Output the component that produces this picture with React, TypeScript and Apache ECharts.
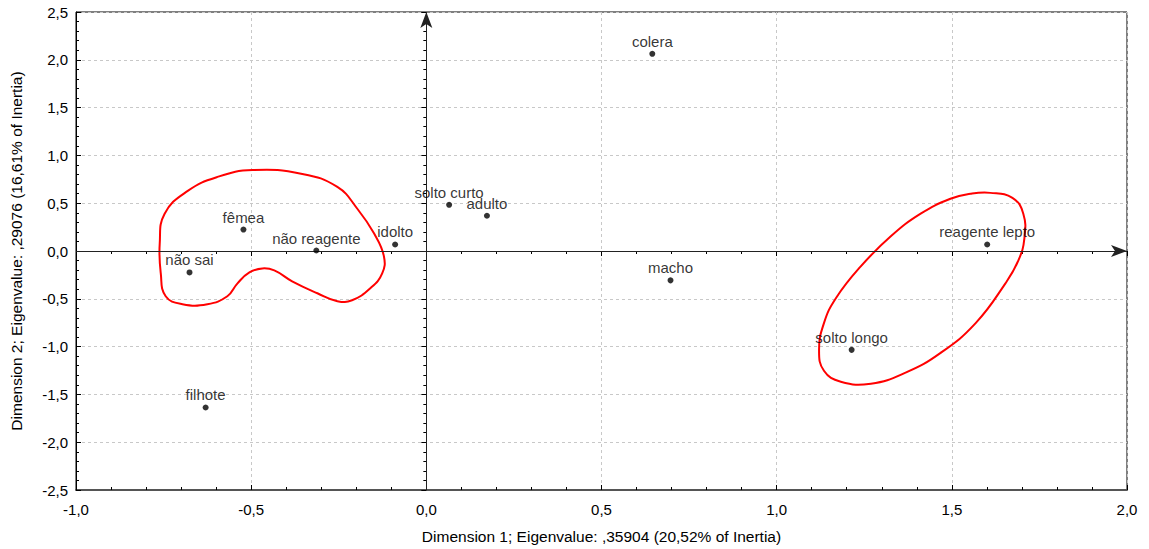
import React, { useEffect, useRef } from "react";
import * as echarts from "echarts";

const pointNames = ["colera", "solto curto", "adulto", "idolto", "fêmea", "não reagente", "não sai", "filhote", "macho", "solto longo", "reagente lepto"];
const dim1 = [0.645, 0.065, 0.173, -0.089, -0.522, -0.314, -0.676, -0.63, 0.697, 1.214, 1.601];
const dim2 = [2.063, 0.483, 0.369, 0.068, 0.224, 0.005, -0.224, -1.637, -0.307, -1.034, 0.068];

const leftLoop: [number, number][] = [
  [-0.496, 0.847], [-0.354, 0.806], [-0.254, 0.67], [-0.197, 0.442], [-0.149, 0.182],
  [-0.121, -0.057], [-0.126, -0.234], [-0.16, -0.39], [-0.212, -0.515], [-0.254, -0.525],
  [-0.311, -0.442], [-0.383, -0.317], [-0.434, -0.203], [-0.468, -0.182], [-0.505, -0.224],
  [-0.539, -0.338], [-0.568, -0.473], [-0.625, -0.556], [-0.696, -0.556], [-0.744, -0.473],
  [-0.758, -0.234], [-0.761, 0.078], [-0.747, 0.39], [-0.681, 0.629], [-0.596, 0.775],
];
const rightLoop: [number, number][] = [
  [1.61, 0.608], [1.673, 0.556], [1.704, 0.39], [1.707, 0.13], [1.69, -0.099],
  [1.653, -0.338], [1.568, -0.754], [1.468, -1.066], [1.368, -1.273], [1.269, -1.388],
  [1.183, -1.367], [1.135, -1.253], [1.121, -1.034], [1.135, -0.754], [1.169, -0.494],
  [1.24, -0.161], [1.325, 0.151], [1.411, 0.39], [1.496, 0.546], [1.553, 0.598],
];
const loops = [leftLoop, rightLoop];

const xTitle = "Dimension 1; Eigenvalue: ,35904 (20,52% of Inertia)";
const yTitle = "Dimension 2; Eigenvalue: ,29076 (16,61% of Inertia)";

const fmt = (v: number) => v.toFixed(1).replace(".", ",");
const FONT = "Liberation Sans, Arial, sans-serif";

export default function App() {
  const ref = useRef<HTMLDivElement>(null);
  useEffect(() => {
    if (!ref.current) return;
    const chart = echarts.init(ref.current, null, { renderer: "svg" });
    const tickStyle = { lineStyle: { color: "#000", width: 1 } };
    const baseX = { type: "value" as const, min: -1, max: 2, interval: 0.5 };
    const baseY = { type: "value" as const, min: -2.5, max: 2.5, interval: 0.5 };
    chart.setOption({
      animation: false,
      textStyle: { fontFamily: FONT },
      grid: { left: 73, right: 22, top: 12, bottom: 56, show: true, borderColor: "#000", borderWidth: 1 },
      xAxis: [
        {
          ...baseX,
          position: "bottom",
          axisLine: { show: true, onZero: false, lineStyle: { color: "#555", width: 2 } },
          axisTick: { show: true, inside: true, length: 5, ...tickStyle },
          minorTick: { show: true, splitNumber: 5, length: 3, ...tickStyle },
          splitLine: { show: true, lineStyle: { color: "#c8c8c8", type: [3, 3], width: 1 } },
          axisLabel: { formatter: fmt, fontSize: 15, color: "#000", margin: 12, fontFamily: FONT },
          name: xTitle,
          nameLocation: "middle",
          nameGap: 38,
          nameTextStyle: { fontSize: 15.5, color: "#000", fontFamily: FONT },
        },
        {
          ...baseX,
          position: "top",
          axisLine: { show: false },
          axisTick: { show: true, inside: true, length: 5, ...tickStyle },
          minorTick: { show: true, splitNumber: 5, length: 3, ...tickStyle },
          splitLine: { show: false },
          axisLabel: { show: false },
        },
      ],
      yAxis: [
        {
          ...baseY,
          position: "left",
          axisLine: { show: true, onZero: false, lineStyle: { color: "#000", width: 1 } },
          axisTick: { show: true, inside: true, length: 5, ...tickStyle },
          minorTick: { show: true, splitNumber: 5, length: 3, ...tickStyle },
          splitLine: { show: true, lineStyle: { color: "#c8c8c8", type: [3, 3], width: 1 } },
          axisLabel: { formatter: fmt, fontSize: 15, color: "#000", margin: 8, fontFamily: FONT },
          name: yTitle,
          nameLocation: "middle",
          nameGap: 52,
          nameRotate: 90,
          nameTextStyle: { fontSize: 15.5, color: "#000", fontFamily: FONT },
        },
        {
          ...baseY,
          position: "right",
          axisLine: { show: false },
          axisTick: { show: true, inside: true, length: 5, ...tickStyle },
          minorTick: { show: true, splitNumber: 5, length: 3, ...tickStyle },
          splitLine: { show: false },
          axisLabel: { show: false },
        },
      ],
      series: [
        {
          type: "custom",
          silent: true,
          z: 3,
          data: loops.map((_, i) => [i]),
          renderItem: (params: any, api: any) => {
            const idx = api.value(0);
            const pts = loops[idx].map((p) => api.coord(p));
            return {
              type: "polygon",
              shape: { points: pts, smooth: 0.45 },
              style: { fill: "none", stroke: "#ff0000", lineWidth: 2 },
            };
          },
        },
        {
          type: "scatter",
          symbolSize: 6,
          itemStyle: { color: "#000" },
          z: 5,
          data: pointNames.map((n, i) => ({ name: n, value: [dim1[i], dim2[i]] })),
          label: {
            show: true,
            position: "top",
            distance: 2,
            formatter: "{b}",
            color: "#000",
            fontSize: 15,
            fontFamily: FONT,
          },
          markLine: {
            silent: true,
            symbol: ["none", "arrow"],
            symbolSize: [9, 16],
            label: { show: false },
            lineStyle: { color: "#222", width: 1, type: "solid" },
            data: [{ xAxis: 0 }, { yAxis: 0 }],
          },
        },
      ],
    });
    return () => chart.dispose();
  }, []);
  return <div ref={ref} style={{ position: "absolute", left: 0, top: 0, width: 1149, height: 549 }} />;
}
